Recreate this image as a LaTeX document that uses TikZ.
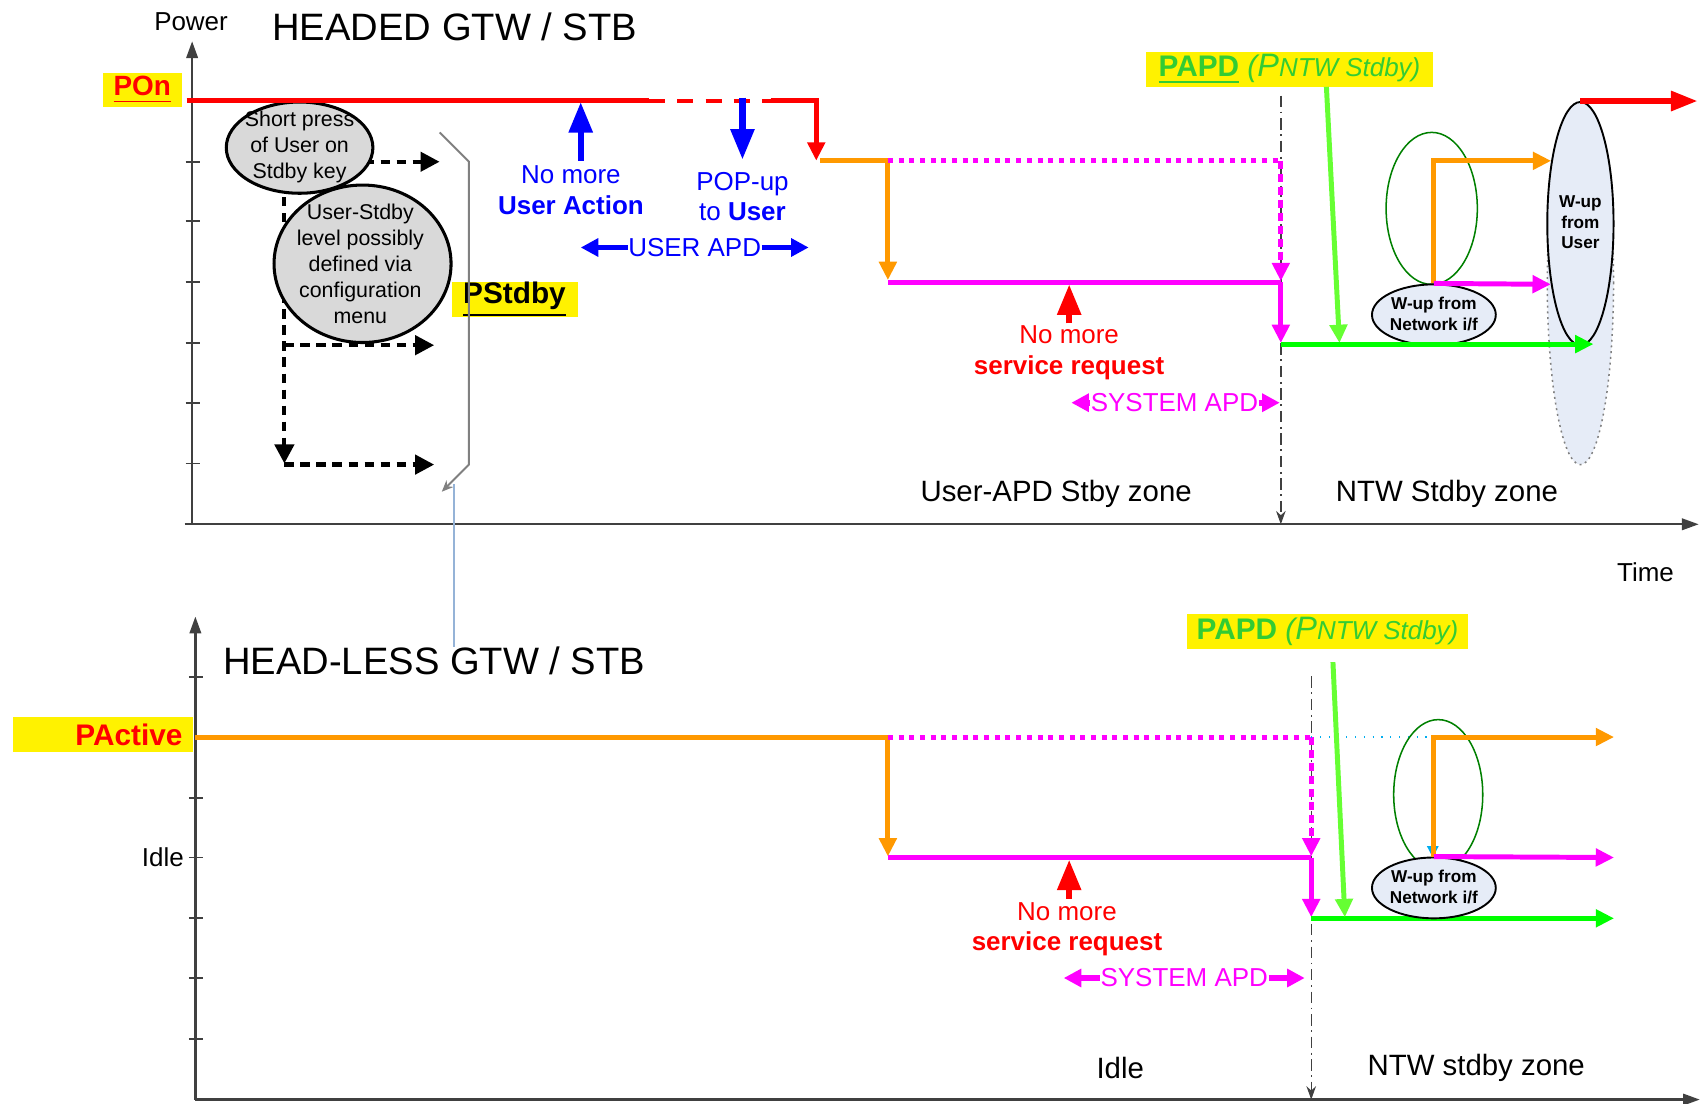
\documentclass[tikz,border=0pt]{standalone}
\usepackage{fontspec}
\setmainfont{Liberation Sans}
\usetikzlibrary{arrows.meta,shapes.geometric}
\definecolor{apdorange}{RGB}{255,153,0}
\definecolor{apdmagenta}{RGB}{255,0,255}
\definecolor{apdgreen}{RGB}{0,255,0}
\definecolor{papdarrow}{RGB}{102,255,51}
\definecolor{papdtext}{RGB}{51,204,51}
\definecolor{ringgreen}{RGB}{0,128,0}
\definecolor{bubblegrey}{RGB}{217,217,217}
\definecolor{wupfill}{RGB}{230,236,247}
\definecolor{linkblue}{RGB}{149,179,215}
\definecolor{axisgrey}{RGB}{64,64,64}
\newcommand{\ntwlabel}{{\mdseries\itshape(\fontsize{8.5}{9}\selectfont P\fontsize{6.8}{8}\selectfont NTW Stdby)}}
\tikzset{
  axisline/.style={axisgrey, line width=0.6pt, -{Triangle[length=4.4pt,width=3pt]}},
  axtick/.style={axisgrey, line width=0.5pt},
  lvl/.style={line width=1.3pt},
  lvltip/.style={line width=1.3pt, -{Triangle[length=4.8pt,width=4.5pt]}},
  dotlvl/.style={line width=1.3pt, dash pattern=on 1.3pt off 1.5pt},
  dashlvl/.style={line width=1.3pt, dash pattern=on 2.2pt off 1.2pt, -{Triangle[length=4.8pt,width=4.5pt]}},
  bigtip/.style={line width=1.6pt, -{Triangle[length=8pt,width=6pt]}},
  spantip/.style={line width=1.5pt, -{Triangle[length=4.6pt,width=4.6pt]}},
  keypath/.style={line width=1.1pt, dash pattern=on 2.4pt off 1.8pt, -{Triangle[length=5pt,width=5pt]}},
  zoneline/.style={black!75, line width=0.35pt, dash pattern=on 3pt off 1.2pt on 0.5pt off 1.2pt, -{Stealth[length=3.5pt,width=2.5pt]}},
  pbox/.style={fill=yellow, inner sep=0pt, minimum height=0.32cm, font=\fontsize{7.8}{9}\selectfont\bfseries},
  lbl/.style={font=\fontsize{6.8}{8}\selectfont, align=center, inner sep=0pt},
  axlbl/.style={font=\fontsize{6.8}{8}\selectfont, inner sep=0pt},
  paneltitle/.style={font=\fontsize{10}{12}\selectfont, inner sep=0pt},
  zone/.style={font=\fontsize{7.7}{9}\selectfont, inner sep=0pt},
  bubble/.style={ellipse, draw=black, line width=0.8pt, fill=bubblegrey, inner sep=0pt},
  bubtext/.style={font=\fontsize{5.6}{6.8}\selectfont, align=center, inner sep=0pt},
  wup/.style={ellipse, draw=black, line width=0.5pt, fill=wupfill, inner sep=0pt},
  wuptext/.style={font=\fontsize{4.5}{5.4}\selectfont\bfseries, align=center, inner sep=0pt},
  ring/.style={ellipse, draw=ringgreen, line width=0.4pt, inner sep=0pt},
}
\begin{document}
\begin{tikzpicture}[x=0.01cm,y=-0.01cm]
\useasboundingbox (0,0) rectangle (1568,1017);
\draw[axisline] (170,483) -- (1565,483);
\draw[axisline] (177,483) -- (177,38);
\foreach \ty in {149,204,260,316,371,427}
  \draw[axtick] (171,\ty) -- (184,\ty);
\draw[axisline] (180,1013) -- (1566,1013);
\draw[axisline] (180,1013) -- (180,568);
\foreach \ty in {624,735,790,846,901,957}
  \draw[axtick] (174,\ty) -- (187,\ty);

\node[axlbl] (power) at (176,20) {Power};
\node[axlbl] (time) at (1516,527) {Time};
\node[paneltitle] (headed) at (419,25) {HEADED GTW / STB};
\node[paneltitle] (headless) at (400,609) {HEAD-LESS GTW / STB};
\node[axlbl, anchor=east] (idlelvl) at (170,790) {Idle};

\node[pbox, minimum width=0.73cm, text=red, font=\fontsize{7.3}{9}\selectfont\bfseries] (pon) at (131,83) {\underline{POn}};
\node[pbox, minimum width=1.16cm] (pstdby) at (474,276) {\underline{PStdby}};
\node[pbox, text width=1.46cm, align=right, inner xsep=0.1cm, text=red] (pactive) at (95,677) {PActive};
\node[pbox, minimum width=2.64cm, text=papdtext] (papd) at (1188,64) {\underline{PAPD} \ntwlabel};
\node[pbox, minimum width=2.58cm, text=papdtext] (papdlow) at (1223,582) {PAPD \ntwlabel};

\draw[zoneline] (1180,88) -- (1180,483);
\draw[zoneline] (1208,623) -- (1208,1013);

\draw[black, keypath] (262,93) -- (262,427);
\draw[black, keypath] (262,149) -- (405,149);
\draw[black, keypath] (262,318) -- (400,318);
\draw[black, keypath] (262,428) -- (400,428);
\node[bubble, minimum width=1.35cm, minimum height=0.84cm] (shortpress) at (276,136) {};
\node[bubtext] (shortpresstxt) at (276,135) {Short press\\of User on\\Stdby key};
\node[bubble, minimum width=1.63cm, minimum height=1.45cm] (stdbylevel) at (334,243) {};
\node[bubtext] (stdbyleveltxt) at (332,243) {User-Stdby\\level possibly\\defined via\\configuration\\menu};
\draw[gray, line width=0.5pt, -{Stealth[length=3pt,width=2.5pt]}] (405,122) -- (432,149) -- (432,428) -- (407,453);
\draw[linkblue, line width=0.5pt] (418,446) -- (418,596);

\draw[red, lvl] (172,93) -- (598,93);
\draw[red, line width=1pt, dash pattern=on 4.2pt off 3.2pt] (598,93) -- (710,93);
\draw[red, lvltip] (710,93) -- (752,93) -- (752,148);
\draw[apdorange, lvltip] (755,148) -- (818,148) -- (818,258);
\draw[apdmagenta, dotlvl] (818,148) -- (1180,148);
\draw[apdmagenta, dashlvl] (1180,148) -- (1180,259);
\draw[apdmagenta, lvl] (818,260) -- (1180,260);
\draw[apdmagenta, lvltip] (1180,260) -- (1180,316);

\draw[blue, bigtip] (535,148) -- (535,94);
\draw[blue, bigtip] (684,90) -- (684,147);
\node[lbl, text=blue] (nomoreuser) at (526,175) {No more\\\textbf{User Action}};
\node[lbl, text=blue] (popup) at (684,181) {POP-up\\to \textbf{User}};
\node[lbl, text=blue] (userapd) at (640,228) {USER APD};
\draw[blue, spantip] (userapd.west) -- (535,228);
\draw[blue, spantip] (userapd.east) -- (745,228);

\draw[red, bigtip] (985,298) -- (985,262);
\node[lbl, text=red] (nomoresrv) at (985,325) {No more\\\textbf{service request}};
\node[lbl, text=apdmagenta] (sysapd) at (1082,371) {SYSTEM APD};
\draw[apdmagenta, spantip] (sysapd.west) -- (987,371);
\draw[apdmagenta, spantip] (sysapd.east) -- (1179,371);
\node[zone] (userzone) at (973,455) {User-APD Stby zone};
\node[zone] (ntwzone) at (1333,455) {NTW Stdby zone};

\draw[papdarrow, lvltip] (1222,80) -- (1234,316);
\node[ring, minimum width=0.84cm, minimum height=1.4cm] (netring) at (1319,192) {};
\node[wup, minimum width=1.14cm, minimum height=0.56cm] (wupnet) at (1321,290) {};
\node[wuptext] (wupnettxt) at (1321,289) {W-up from\\Network i/f};
\node[wup, draw=gray, densely dotted, line width=0.4pt, minimum width=0.61cm, minimum height=3.34cm] (wupzone) at (1456,261) {};
\node[wup, minimum width=0.61cm, minimum height=2.24cm] (wupuser) at (1456,206) {};
\node[wuptext] (wupusertxt) at (1456,205) {W-up\\from\\User};
\draw[apdorange, lvltip] (wupnet.north) |- (wupuser.115);
\draw[apdmagenta, lvltip] (wupnet.north) -- (wupuser.244);
\draw[apdgreen, lvltip] (1180,317) -- (1468,317);
\draw[red, line width=1.5pt, -{Triangle[length=7pt,width=5pt]}] (wupuser.north) -- +(108,0);

\draw[apdorange, lvltip] (180,679) -- (818,679) -- (818,789);
\draw[apdmagenta, dotlvl] (818,679) -- (1208,679);
\draw[apdmagenta, dashlvl] (1208,679) -- (1208,789);
\draw[cyan, line width=0.3pt, dotted] (1208,679) -- (1320,679);
\draw[apdmagenta, lvl] (818,790) -- (1208,790);
\draw[apdmagenta, lvltip] (1208,790) -- (1208,845);
\draw[apdgreen, lvltip] (1208,846) -- (1487,846);
\draw[red, bigtip] (985,828) -- (985,792);
\node[lbl, text=red] (nomoresrvlow) at (983,856) {No more\\\textbf{service request}};
\node[lbl, text=apdmagenta] (sysapdlow) at (1091,901) {SYSTEM APD};
\draw[apdmagenta, spantip] (sysapdlow.west) -- (980,901);
\draw[apdmagenta, spantip] (sysapdlow.east) -- (1202,901);
\node[zone] (idlezone) at (1032,984) {Idle};
\node[zone] (ntwzonelow) at (1360,984) {NTW stdby zone};

\draw[papdarrow, lvltip] (1228,610) -- (1239,845);
\node[ring, minimum width=0.82cm, minimum height=1.38cm] (netringlow) at (1325,732) {};
\node[wup, minimum width=1.14cm, minimum height=0.56cm] (wupnetlow) at (1321,818) {};
\node[wuptext] (wupnetlowtxt) at (1321,817) {W-up from\\Network i/f};
\draw[cyan, line width=0.4pt, -{Triangle[length=3pt,width=3pt]}] (1320,679) -- (1320,790);
\draw[apdorange, lvltip] (wupnetlow.north) |- (1487,679);
\draw[apdmagenta, lvltip] (wupnetlow.north) -- (1487,790);
\end{tikzpicture}
\end{document}
